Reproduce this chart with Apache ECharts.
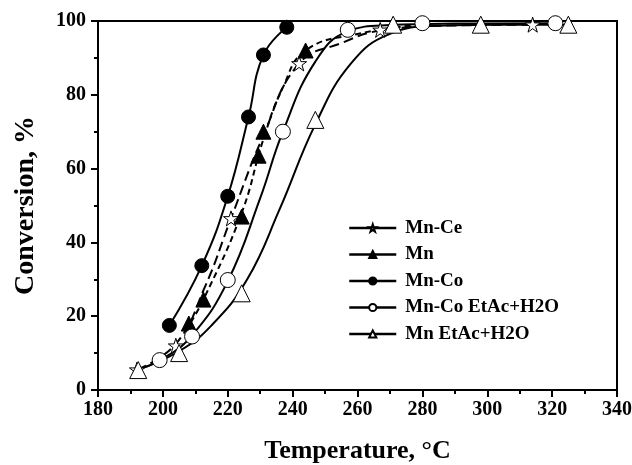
<!DOCTYPE html>
<html>
<head>
<meta charset="utf-8">
<script src="https://cdn.jsdelivr.net/npm/echarts@6/dist/echarts.min.js"></script>
<style>
html,body{margin:0;padding:0;background:#fff;}
#chart{width:632px;height:465px;}
</style>
</head>
<body>
<div id="chart"></div>
<script>
var seriesNames = ['Mn-Ce', 'Mn', 'Mn-Co', 'Mn-Co EtAc+H2O', 'Mn EtAc+H2O'];
var tMnCe = [192, 204, 221, 242, 267, 314];
var cMnCe = [5.5, 12, 46.5, 88.5, 97.6, 99];
var tMn = [208, 212.5, 224.3, 229.5, 231, 244];
var cMn = [18, 24.5, 47, 63.5, 70, 92];
var tMnCo = [202, 212, 220, 226.4, 231, 238.2];
var cMnCo = [17.5, 33.7, 52.5, 74, 90.8, 98.3];
var tMnCoW = [199, 209, 220, 237, 257, 280, 321];
var cMnCoW = [8.1, 14.5, 29.8, 70, 97.6, 99.4, 99.4];
var tMnW = [192.4, 205, 224.3, 247, 271, 298, 325];
var cMnW = [5.4, 10, 26.2, 73.2, 99, 99, 99];

// fitted curves
var fitTMnCe = [192, 204, 213, 221, 231, 242, 255, 267, 290, 314];
var fitCMnCe = [5.5, 12.5, 28, 46.5, 69, 88.5, 94, 97.4, 98.8, 99];
var fitTMn = [207, 212.5, 224.3, 231, 237, 244, 260, 281];
var fitCMn = [16, 24.5, 48, 68, 82, 92, 96.5, 99.2];
var fitTMnCo = [202, 212, 220, 226.4, 231, 238.2];
var fitCMnCo = [17.5, 33.7, 52.5, 74, 90.8, 98.3];
var fitTMnCoW = [192, 200, 209, 220, 230, 237, 247, 257, 270, 290, 321];
var fitCMnCoW = [5.5, 8.5, 14.8, 29.5, 52, 70, 89, 97.2, 98.9, 99.3, 99.4];
var fitTMnW = [192, 205, 215, 226, 236, 247, 258, 270, 285, 305, 325];
var fitCMnW = [5.4, 10.5, 17.5, 30, 49, 72, 88.5, 96.5, 98.7, 99, 99];

var xTicks = [180, 200, 220, 240, 260, 280, 300, 320, 340];
var yTicks = [0, 20, 40, 60, 80, 100];

var star = 'path://M50,0 L61.8,35.1 L98.9,35.1 L68.9,56.7 L80.3,91.9 L50,70.2 L19.7,91.9 L31.1,56.7 L1.1,35.1 L38.2,35.1 Z';

function pairs(t, c) {
    var out = [];
    for (var i = 0; i < t.length; i++) out.push([t[i], c[i]]);
    return out;
}

var chart = echarts.init(document.getElementById('chart'));
var font = '"Liberation Serif", "Times New Roman", serif';

// markers only (line hidden); legend takes its icon from these
function marks(name, t, c, symbol, size, filled) {
    return {
        name: name,
        type: 'line',
        data: pairs(t, c),
        symbol: symbol,
        symbolSize: size,
        showAllSymbol: true,
        z: 3,
        lineStyle: {opacity: 0},
        itemStyle: {
            color: filled ? '#000' : '#fff',
            borderColor: '#000',
            borderWidth: 1
        }
    };
}
// smooth fitted curve
function curve(name, t, c, dash) {
    return {
        name: name + ' fit',
        type: 'line',
        data: pairs(t, c),
        smooth: 0.45,
        symbol: 'none',
        z: 2,
        lineStyle: {color: '#000', width: 2, type: dash || 'solid'}
    };
}

var legendLine = {color: '#000', width: 2.5, opacity: 1};

var option = {
    animation: false,
    backgroundColor: '#fff',
    grid: {
        left: 98, top: 21, width: 519, height: 369,
        outerBoundsMode: 'none',
        show: true, borderColor: '#000', borderWidth: 2, backgroundColor: 'transparent'
    },
    legend: {
        orient: 'vertical',
        left: 343, top: 213,
        itemWidth: 47, itemHeight: 9, itemGap: 6.5,
        data: seriesNames.map(function (n) { return {name: n, lineStyle: legendLine}; }),
        textStyle: {fontFamily: font, fontWeight: 'bold', fontSize: 19, lineHeight: 20, color: '#000', padding: [0, 0, 0, 4]}
    },
    xAxis: {
        type: 'value', min: xTicks[0], max: xTicks[xTicks.length - 1], interval: 20,
        name: 'Temperature, °C', nameLocation: 'middle', nameGap: 48,
        nameTextStyle: {fontFamily: font, fontWeight: 'bold', fontSize: 26, color: '#000'},
        axisLine: {lineStyle: {color: '#000', width: 2}},
        axisTick: {length: 7, lineStyle: {color: '#000', width: 2}},
        minorTick: {show: true, splitNumber: 2, length: 4, lineStyle: {color: '#000', width: 2}},
        splitLine: {show: false},
        axisLabel: {fontFamily: font, fontWeight: 'bold', fontSize: 20, color: '#000', margin: 10}
    },
    yAxis: {
        type: 'value', min: yTicks[0], max: yTicks[yTicks.length - 1], interval: 20,
        name: 'Conversion, %', nameLocation: 'middle', nameGap: 58,
        nameTextStyle: {fontFamily: font, fontWeight: 'bold', fontSize: 28, color: '#000'},
        axisLine: {lineStyle: {color: '#000', width: 2}},
        axisTick: {length: 7, lineStyle: {color: '#000', width: 2}},
        minorTick: {show: true, splitNumber: 2, length: 4, lineStyle: {color: '#000', width: 2}},
        splitLine: {show: false},
        axisLabel: {fontFamily: font, fontWeight: 'bold', fontSize: 20, color: '#000', margin: 12}
    },
    series: [
        marks('Mn-Ce', tMnCe, cMnCe, star, 15, false),
        marks('Mn', tMn, cMn, 'triangle', 15, true),
        marks('Mn-Co', tMnCo, cMnCo, 'circle', 14, true),
        marks('Mn-Co EtAc+H2O', tMnCoW, cMnCoW, 'circle', 15, false),
        marks('Mn EtAc+H2O', tMnW, cMnW, 'triangle', 17, false),
        curve('Mn-Ce', fitTMnCe, fitCMnCe, [10, 5]),
        curve('Mn', fitTMn, fitCMn, [6, 4]),
        curve('Mn-Co', fitTMnCo, fitCMnCo),
        curve('Mn-Co EtAc+H2O', fitTMnCoW, fitCMnCoW),
        curve('Mn EtAc+H2O', fitTMnW, fitCMnW)
    ]
};
chart.setOption(option, true);
</script>
</body>
</html>
